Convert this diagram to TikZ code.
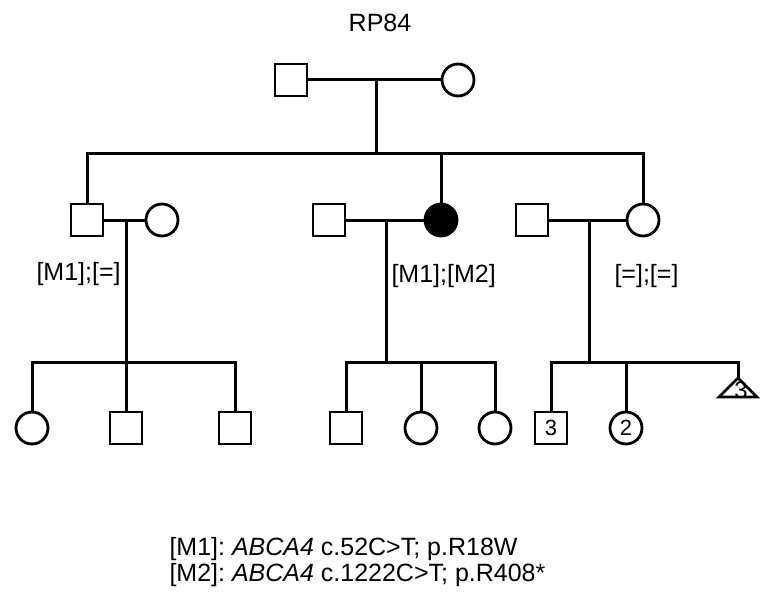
\documentclass[tikz,border=0pt]{standalone}
\usepackage{fontspec}
\setmainfont{Liberation Sans}
\usepackage{tikz}
\frenchspacing

\begin{document}
\begin{tikzpicture}[
    x=1pt, y=-1pt,
    line width=3pt,
    male/.style={
        rectangle, draw=black, line width=2.8pt, fill=white,
        minimum size=32pt, inner sep=0pt,
        font=\fontsize{22}{24}\selectfont
    },
    female/.style={
        circle, draw=black, line width=2.8pt, fill=white,
        minimum size=32pt, inner sep=0pt,
        font=\fontsize{22}{24}\selectfont
    },
    affected/.style={fill=black},
    lbl/.style={anchor=base west, inner sep=0pt, font=\fontsize{25}{28}\selectfont}
]
\useasboundingbox (0,0) rectangle (766,594);

\node[inner sep=0pt, anchor=base, font=\fontsize{25}{28}\selectfont] (title) at (380,32) {RP84};

% Generation I
\node[male] (I1) at (291,80) {};
\node[female] (I2) at (458,80) {};
\coordinate (mI) at (376,80);
\coordinate (sI) at (376,153);

\draw (I1) -- (I2);
\draw (mI) -- (sI);

% Generation II
\node[male] (II1) at (87,220) {};
\node[female] (II2) at (162,220) {};
\node[male] (II3) at (329,220) {};
\node[female, affected] (II4) at (441,220) {};
\node[male] (II5) at (532,220) {};
\node[female] (II6) at (643,220) {};
\coordinate (mII1) at (126,220);
\coordinate (mII2) at (386,220);
\coordinate (mII3) at (589,220);

\draw (II1.north) |- (sI) -| (II6.north);
\draw (sI) -| (II4.north);
\draw (II1) -- (II2);
\draw (II3) -- (II4);
\draw (II5) -- (II6);

\node[lbl] (gt1) at (35,280) {[M1];[=]};
\node[lbl] (gt2) at (390,282) {[M1];[M2]};
\node[lbl] (gt3) at (613,282) {[=];[=]};

% Generation III
\coordinate (sIII1) at (126,362);
\coordinate (sIII2) at (386,362);
\coordinate (sIII3) at (589,362);

\node[female] (III1) at (32,428) {};
\node[male] (III2) at (126,428) {};
\node[male] (III3) at (235,428) {};
\node[male] (III4) at (346,428) {};
\node[female] (III5) at (421,428) {};
\node[female] (III6) at (495,428) {};
\node[male] (III7) at (551,428) {3};
\node[female] (III8) at (626,428) {2};
\coordinate (III9) at (738,378);

\draw (mII1) -- (sIII1);
\draw (III1.north) |- (sIII1) -| (III3.north);
\draw (sIII1) -- (III2.north);

\draw (mII2) -- (sIII2);
\draw (III4.north) |- (sIII2) -| (III6.north);
\draw (sIII2) -| (III5.north);

\draw (mII3) -- (sIII3);
\draw (III7.north) |- (sIII3) -| (III9);
\draw (sIII3) -| (III8.north);

% pregnancy loss (x3)
\draw[line width=2.8pt, line join=miter] (III9) -- ++(19,19) -- ++(-38,0) -- cycle;
\node[inner sep=0pt, font=\fontsize{24}{26}\selectfont] (n9) at (741,390) {3};

% mutation key
\node[lbl] (key1) at (168,555) {[M1]: \textit{ABCA4} c.52C>T; p.R18W};
\node[lbl] (key2) at (168,581) {[M2]: \textit{ABCA4} c.1222C>T; p.R408*};

\end{tikzpicture}
\end{document}
